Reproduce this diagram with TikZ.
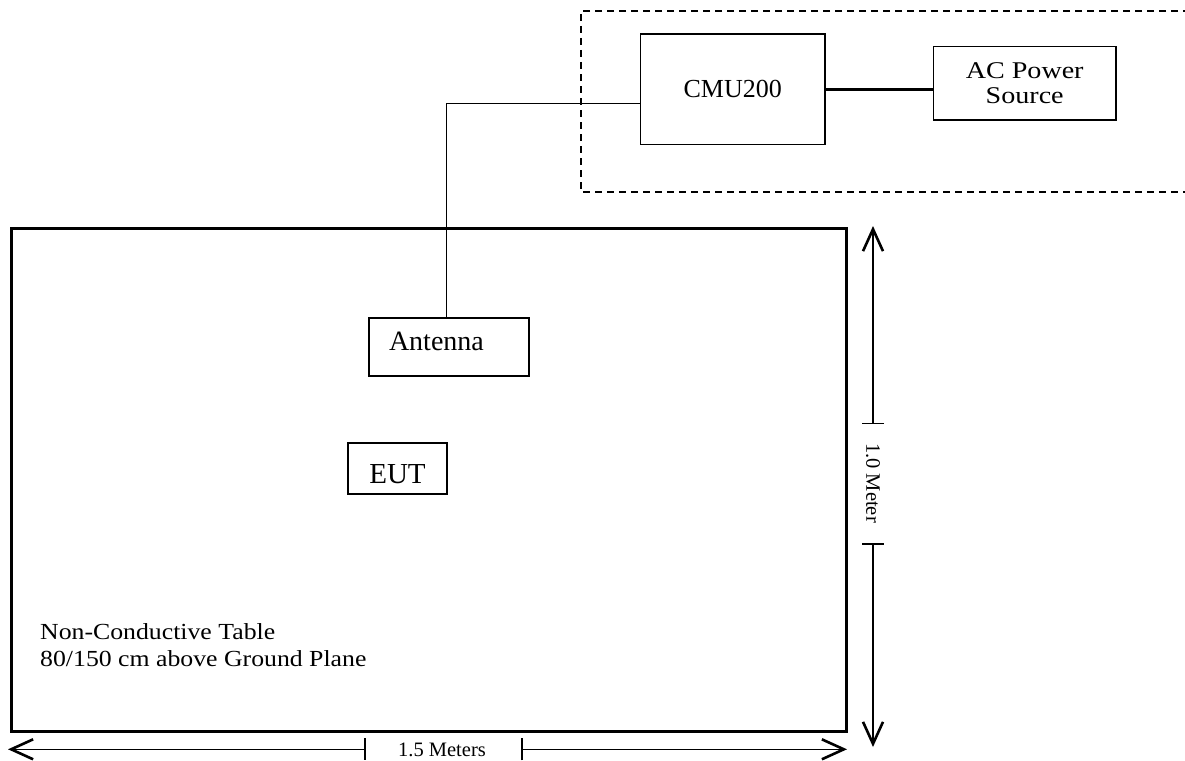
\documentclass[tikz,border=0pt]{standalone}
\usepackage{fontspec}
\setmainfont{Liberation Serif}
\usetikzlibrary{arrows.meta}
\tikzset{
  box/.style={draw, line width=1.6pt, inner sep=0pt, align=center},
  tablebox/.style={draw, line width=3pt, inner sep=0pt},
  wire/.style={line width=1.5pt},
  powerline/.style={line width=3pt},
  dashbox/.style={line width=1.7pt, dash pattern=on 7pt off 5pt},
  dimline/.style={line width=1.3pt, {Straight Barb[length=22pt,width=20pt,line width=2.6pt]}-{Bar[width=22pt,line width=1.5pt]}},
  dimtext/.style={font=\fontsize{20.5}{24}\selectfont, inner sep=0pt}
}
\begin{document}
\begin{tikzpicture}[x=1pt,y=-1pt]
\useasboundingbox[fill=white] (0,0) rectangle (1185,760);

% dashed enclosure (open to the right edge)
\draw[dashbox] (1190,11) -- (581,11) -- (581,192) -- (1190,192);

% boxes
\node[box, minimum width=184.5pt, minimum height=110pt, font=\fontsize{26}{30}\selectfont] (cmu) at (732.75,89.3) {CMU200};
\node[box, minimum width=182.7pt, minimum height=73.3pt, font=\fontsize{24}{25}\selectfont] (ac) at (1024.7,83.3) {\scalebox{1.17}[1]{AC Power}\\\scalebox{1.17}[1]{Source}};
\node[tablebox, minimum width=835pt, minimum height=503pt] (table) at (428.5,480.2) {};
\node[box, inner xsep=20pt, text width=120pt, align=left, minimum height=58pt, text height=19pt, text depth=13pt, font=\fontsize{28}{32}\selectfont] (ant) at (449,347) {Antenna};
\node[box, minimum width=99pt, minimum height=51pt, text height=29pt, text depth=0pt, font=\fontsize{29}{32}\selectfont] (eut) at (397.5,468.5) {EUT};

\node[anchor=west, inner sep=0pt, align=left, font=\fontsize{23}{27}\selectfont] (tabletext) at (40,645) {\scalebox{1.12}[1]{Non-Conductive Table}\\\scalebox{1.12}[1]{80/150 cm above Ground Plane}};

% connectors
\coordinate (cmuin) at ([yshift=-14pt]cmu.west);
\draw[wire] (cmuin) -| ([xshift=-2.3pt]ant.north);
\draw[powerline] (cmu.east) -- (cmu.east -| ac.west);

% horizontal dimension
\coordinate (hl) at (8,749.3);
\coordinate (hlt) at (365.5,749.3);
\coordinate (hrt) at (521,749.3);
\coordinate (hr) at (847,749.3);
\node[dimtext, anchor=base] (hdim) at (442,756) {1.5 Meters};
\draw[dimline] (hl) -- (hlt);
\draw[dimline] (hr) -- (hrt);

% vertical dimension
\coordinate (vt) at (873,226);
\coordinate (vtt) at (873,424);
\coordinate (vbt) at (873,543);
\coordinate (vb) at (873,747);
\node[dimtext, rotate=-90] (vdim) at (873,483) {1.0 Meter};
\draw[dimline] (vt) -- (vtt);
\draw[dimline] (vb) -- (vbt);
\end{tikzpicture}
\end{document}
